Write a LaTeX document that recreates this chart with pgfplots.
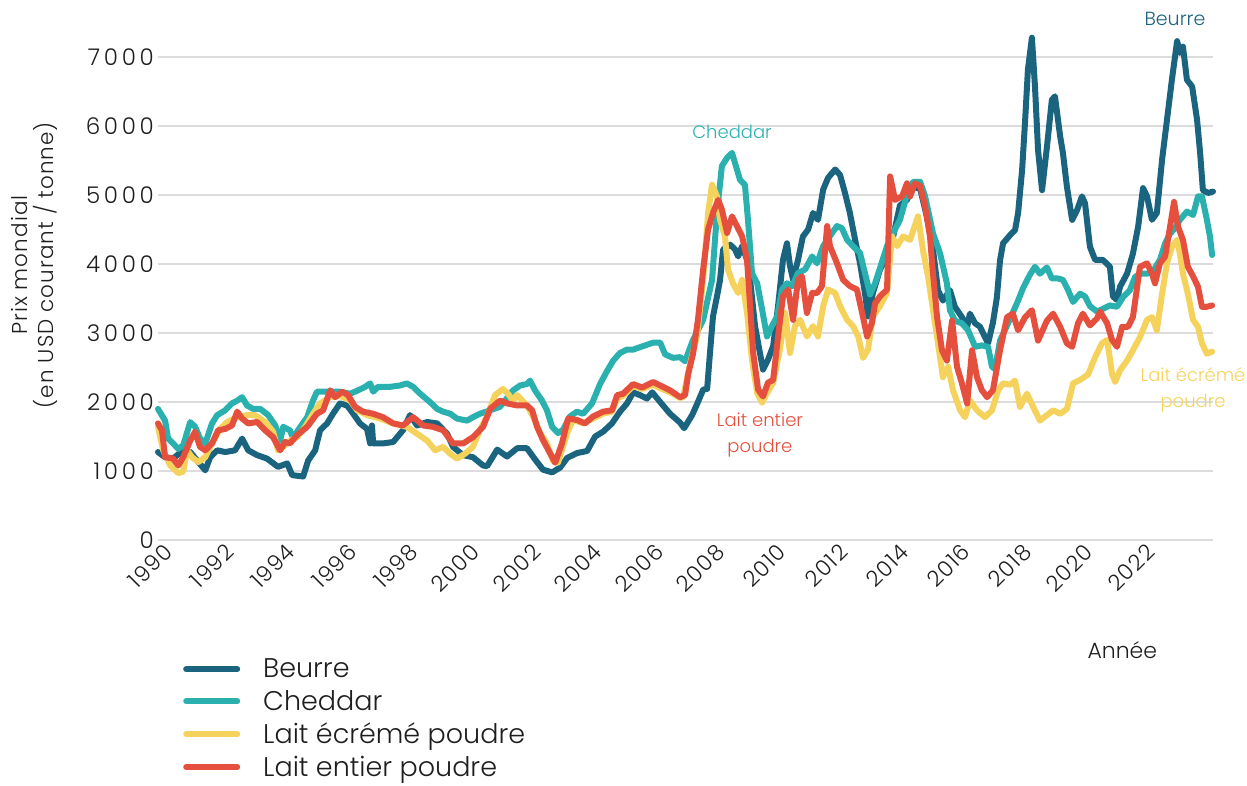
\documentclass[border=0pt]{standalone}
\usepackage{fontspec}
\setmainfont{Poppins}[UprightFont=* Light]
\usepackage{pgfplots}
\pgfplotsset{compat=1.18}

\definecolor{beurre}{HTML}{1B6480}
\definecolor{cheddar}{HTML}{2AB0AE}
\definecolor{ecreme}{HTML}{F5D25C}
\definecolor{entier}{HTML}{E4503D}
\definecolor{grille}{HTML}{DCDCDC}
\definecolor{texte}{HTML}{1E1E1E}

\begin{document}
\begin{tikzpicture}
\path[use as bounding box] (-158pt,-245pt) rectangle (1089pt,540pt);
\begin{axis}[
    scale only axis,
    width=1055pt, height=483pt,
    xmin=1989.67, xmax=2024.04,
    ymin=0, ymax=7000,
    clip=false,
    axis line style={draw=none},
    tick style={draw=none},
    ymajorgrids,
    grid style={grille, line width=2.5pt},
    xtick={1990,1992,...,2022},
    ytick={0,1000,...,7000},
    /pgf/number format/1000 sep={},
    /pgf/number format/assume math mode=true,
    yticklabel style={font=\fontsize{23}{26}\selectfont\addfontfeatures{LetterSpace=16},
        text=texte, inner xsep=4pt, inner ysep=0pt},
    xticklabel style={font=\fontsize{22}{26}\selectfont\addfontfeatures{LetterSpace=5},
        text=texte, rotate=45, anchor=east, inner sep=0pt},
    xticklabel shift=8pt,
    ylabel={Prix mondial\\(en USD courant / tonne)},
    ylabel style={at={(axis description cs:-0.117,0.569)}, anchor=center,
        align=center, font=\fontsize{21.5}{26}\selectfont\addfontfeatures{LetterSpace=5}, text=texte},
    xlabel={Année},
    xlabel style={at={(axis description cs:0.914,-0.228)}, anchor=center,
        font=\fontsize{22}{26}\selectfont, text=texte},
    legend style={at={(axis description cs:0.0237,-0.242)}, anchor=north west,
        draw=none, fill=none, inner sep=0pt, row sep=7pt,
        font=\fontsize{27}{31}\selectfont, text=texte},
    legend cell align=left,
    legend image code/.code={%
        \draw[#1, line width=6pt, line cap=round] (0pt,0pt) -- (51pt,0pt);
        \path[draw=none] (0pt,0pt) -- (75pt,0pt);},
    every axis plot/.append style={line width=6pt, line join=round, line cap=round},
]

% Beurre
\addplot[beurre] coordinates {
(1989.67,1275) (1989.90,1200) (1990.16,1180) (1990.49,1300) (1990.72,1275)
(1990.94,1155) (1991.21,1010) (1991.37,1200) (1991.60,1300) (1991.86,1275)
(1992.18,1300) (1992.41,1470) (1992.61,1300) (1992.90,1230) (1993.22,1180)
(1993.58,1060) (1993.88,1110) (1994.04,940) (1994.40,920) (1994.56,1150)
(1994.79,1300) (1994.95,1590) (1995.18,1690) (1995.37,1830) (1995.60,1980)
(1995.83,1950) (1996.03,1830) (1996.25,1690) (1996.48,1610) (1996.58,1400)
(1996.64,1660) (1996.68,1400) (1997.00,1400) (1997.33,1420) (1997.65,1590)
(1997.88,1810) (1998.11,1660) (1998.44,1710) (1998.76,1690) (1999.09,1540)
(1999.28,1350) (1999.61,1230) (1999.93,1200) (2000.26,1080) (2000.39,1070)
(2000.72,1310) (2001.04,1210) (2001.37,1330) (2001.69,1330) (2001.95,1170)
(2002.21,1020) (2002.51,980) (2002.77,1050) (2003.00,1190) (2003.32,1260)
(2003.65,1290) (2003.91,1500) (2004.17,1570) (2004.46,1690) (2004.72,1860)
(2004.95,1980) (2005.15,2140) (2005.37,2100) (2005.60,2050) (2005.77,2140)
(2006.03,2000) (2006.35,1830) (2006.68,1700) (2006.81,1620) (2007.07,1810)
(2007.26,2000) (2007.43,2180) (2007.56,2190) (2007.65,2700) (2007.75,3240)
(2007.88,3530) (2007.98,3770) (2008.08,4210) (2008.31,4280) (2008.47,4210)
(2008.57,4110) (2008.70,4260) (2008.86,4060) (2008.96,3770) (2009.12,3100)
(2009.28,2710) (2009.38,2470) (2009.54,2610) (2009.71,2810) (2009.87,3390)
(2010.03,4060) (2010.16,4300) (2010.26,3970) (2010.36,3770) (2010.52,4060)
(2010.68,4400) (2010.85,4500) (2011.01,4740) (2011.17,4640) (2011.34,5080)
(2011.50,5250) (2011.73,5370) (2011.89,5290) (2012.05,5030) (2012.21,4740)
(2012.38,4350) (2012.54,4010) (2012.70,3580) (2012.80,3240) (2012.96,3580)
(2013.19,3920) (2013.42,4110) (2013.62,4400) (2013.84,4850) (2014.07,4930)
(2014.27,5120) (2014.50,5090) (2014.72,4680) (2014.92,4200) (2015.08,3620)
(2015.24,3470) (2015.47,3620) (2015.63,3380) (2015.86,3230) (2016.03,3090)
(2016.12,3280) (2016.29,3140) (2016.45,3090) (2016.61,2940) (2016.71,2850)
(2016.87,3150) (2017.00,3520) (2017.10,4050) (2017.20,4300) (2017.43,4420)
(2017.59,4490) (2017.69,4740) (2017.82,5360) (2017.92,6090) (2018.01,6820)
(2018.14,7280) (2018.24,6570) (2018.34,5650) (2018.47,5070) (2018.63,5700)
(2018.79,6380) (2018.89,6430) (2019.06,5850) (2019.15,5610) (2019.28,5120)
(2019.45,4640) (2019.61,4780) (2019.77,4980) (2019.87,4880) (2020.03,4250)
(2020.20,4060) (2020.45,4060) (2020.68,3960) (2020.78,3530) (2020.91,3480)
(2021.01,3670) (2021.24,3860) (2021.43,4150) (2021.60,4540) (2021.76,5100)
(2021.89,4980) (2022.05,4640) (2022.21,4740) (2022.38,5510) (2022.54,6090)
(2022.70,6670) (2022.87,7230) (2022.96,7060) (2023.06,7150) (2023.19,6670)
(2023.36,6570) (2023.52,6090) (2023.62,5610) (2023.71,5070) (2023.88,5030)
(2024.04,5050)
};
\addlegendentry{Beurre}

% Cheddar
\addplot[cheddar] coordinates {
(1989.67,1900) (1989.90,1730) (1990.00,1470) (1990.16,1400) (1990.33,1320)
(1990.49,1370) (1990.72,1710) (1990.88,1640) (1991.04,1470) (1991.21,1400)
(1991.43,1690) (1991.60,1810) (1991.86,1880) (1992.08,1980) (1992.25,2020)
(1992.41,2070) (1992.57,1950) (1992.77,1900) (1993.00,1900) (1993.26,1810)
(1993.49,1660) (1993.65,1440) (1993.75,1640) (1993.97,1590) (1994.07,1470)
(1994.23,1590) (1994.53,1780) (1994.72,2020) (1994.85,2150) (1995.05,2150)
(1995.34,2150) (1995.60,2150) (1995.93,2120) (1996.19,2170) (1996.42,2220)
(1996.58,2270) (1996.68,2150) (1996.84,2220) (1997.23,2220) (1997.56,2240)
(1997.78,2270) (1997.98,2220) (1998.21,2120) (1998.53,2000) (1998.76,1900)
(1998.96,1860) (1999.19,1830) (1999.41,1760) (1999.74,1730) (1999.93,1780)
(2000.16,1830) (2000.49,1880) (2000.81,1930) (2001.24,2170) (2001.47,2240)
(2001.69,2260) (2001.79,2310) (2001.95,2170) (2002.18,2020) (2002.34,1880)
(2002.51,1640) (2002.70,1550) (2002.87,1600) (2003.09,1790) (2003.32,1860)
(2003.52,1830) (2003.81,1980) (2004.07,2260) (2004.30,2450) (2004.50,2600)
(2004.72,2710) (2004.95,2760) (2005.15,2760) (2005.47,2810) (2005.80,2860)
(2006.03,2860) (2006.19,2690) (2006.45,2640) (2006.68,2650) (2006.84,2590)
(2007.10,2900) (2007.43,3190) (2007.72,3770) (2007.88,4740) (2008.04,5420)
(2008.21,5540) (2008.37,5610) (2008.47,5460) (2008.63,5220) (2008.79,5150)
(2008.89,4640) (2009.02,3870) (2009.19,3720) (2009.35,3340) (2009.51,2950)
(2009.67,3100) (2009.84,3240) (2010.00,3630) (2010.16,3720) (2010.33,3680)
(2010.52,3870) (2010.75,3920) (2010.98,4110) (2011.14,4010) (2011.34,4260)
(2011.63,4450) (2011.79,4550) (2011.95,4520) (2012.12,4350) (2012.31,4260)
(2012.54,4160) (2012.70,3870) (2012.87,3560) (2013.03,3720) (2013.19,3940)
(2013.42,4260) (2013.62,4450) (2013.84,4640) (2014.07,5000) (2014.27,5190)
(2014.50,5190) (2014.66,4980) (2014.92,4440) (2015.15,4150) (2015.37,3720)
(2015.47,3330) (2015.63,3180) (2015.86,3140) (2016.06,3040) (2016.29,2800)
(2016.51,2820) (2016.71,2800) (2016.84,2510) (2016.94,2480) (2017.10,2890)
(2017.33,3110) (2017.52,3300) (2017.69,3470) (2017.85,3650) (2018.08,3850)
(2018.24,3960) (2018.40,3860) (2018.63,3950) (2018.79,3790) (2018.99,3790)
(2019.15,3770) (2019.32,3620) (2019.48,3450) (2019.71,3570) (2019.87,3530)
(2020.03,3390) (2020.26,3310) (2020.45,3350) (2020.68,3400) (2020.91,3380)
(2021.11,3520) (2021.33,3620) (2021.50,3810) (2021.66,3860) (2021.89,3860)
(2022.08,3890) (2022.31,4060) (2022.48,4300) (2022.64,4440) (2022.80,4520)
(2022.96,4640) (2023.19,4760) (2023.39,4710) (2023.55,4980) (2023.68,4980)
(2023.84,4640) (2023.94,4400) (2024.01,4130)
};
\addlegendentry{Cheddar}

% Lait ecreme poudre
\addplot[ecreme] coordinates {
(1989.67,1640) (1989.84,1300) (1990.07,1080) (1990.33,970) (1990.49,990)
(1990.62,1300) (1990.78,1200) (1990.98,1130) (1991.21,1200) (1991.43,1400)
(1991.69,1610) (1991.92,1710) (1992.25,1780) (1992.57,1810) (1992.83,1810)
(1993.16,1710) (1993.42,1570) (1993.58,1300) (1993.75,1350) (1993.97,1440)
(1994.20,1490) (1994.46,1640) (1994.72,1830) (1994.95,1980) (1995.28,2070)
(1995.50,2100) (1995.70,2070) (1995.93,2020) (1996.16,1880) (1996.48,1810)
(1996.91,1760) (1997.33,1690) (1997.78,1640) (1998.11,1540) (1998.44,1440)
(1998.70,1300) (1998.96,1350) (1999.19,1250) (1999.41,1180) (1999.67,1250)
(1999.93,1350) (2000.16,1600) (2000.39,1790) (2000.65,2100) (2000.91,2190)
(2001.07,2120) (2001.24,2020) (2001.37,2100) (2001.69,1950) (2001.89,1790)
(2002.12,1550) (2002.34,1400) (2002.54,1140) (2002.70,1120) (2003.00,1550)
(2003.19,1740) (2003.52,1690) (2003.84,1760) (2004.17,1830) (2004.46,1860)
(2004.63,2050) (2004.82,2090) (2005.15,2230) (2005.44,2190) (2005.80,2250)
(2006.03,2200) (2006.35,2140) (2006.68,2060) (2006.78,2070) (2007.00,2550)
(2007.23,2950) (2007.43,3770) (2007.59,4740) (2007.72,5150) (2007.88,4980)
(2007.98,4640) (2008.14,4400) (2008.24,3920) (2008.40,3720) (2008.57,3580)
(2008.70,3770) (2008.86,3290) (2009.02,2610) (2009.19,2130) (2009.35,1990)
(2009.51,2130) (2009.71,2280) (2009.93,2760) (2010.10,3290) (2010.26,2710)
(2010.42,3100) (2010.59,3190) (2010.81,2950) (2011.01,3100) (2011.17,2950)
(2011.34,3390) (2011.50,3630) (2011.73,3580) (2011.89,3390) (2012.12,3190)
(2012.31,3100) (2012.48,2950) (2012.64,2640) (2012.80,2760) (2012.96,3240)
(2013.19,3390) (2013.42,3580) (2013.58,4400) (2013.75,4260) (2013.94,4400)
(2014.17,4350) (2014.43,4690) (2014.59,4200) (2014.76,3810) (2014.92,3330)
(2015.08,2850) (2015.24,2360) (2015.41,2510) (2015.57,2170) (2015.80,1880)
(2015.96,1780) (2016.12,2020) (2016.35,1880) (2016.61,1780) (2016.84,1880)
(2017.04,2170) (2017.20,2270) (2017.43,2250) (2017.59,2310) (2017.75,1930)
(2017.98,2120) (2018.18,1930) (2018.40,1730) (2018.63,1810) (2018.83,1880)
(2019.06,1830) (2019.28,1900) (2019.48,2270) (2019.71,2320) (2019.97,2400)
(2020.20,2650) (2020.42,2850) (2020.59,2900) (2020.75,2410) (2020.85,2290)
(2021.01,2460) (2021.24,2600) (2021.43,2750) (2021.66,2940) (2021.89,3190)
(2022.05,3230) (2022.21,3040) (2022.38,3570) (2022.54,4010) (2022.70,4250)
(2022.87,4350) (2022.96,4150) (2023.06,3860) (2023.22,3570) (2023.39,3190)
(2023.55,3090) (2023.68,2850) (2023.84,2700) (2024.01,2730)
};
\addlegendentry{Lait écrémé poudre}

% Lait entier poudre
\addplot[entier] coordinates {
(1989.67,1690) (1989.80,1590) (1989.90,1200) (1990.16,1180) (1990.33,1080)
(1990.49,1200) (1990.72,1440) (1990.88,1570) (1991.04,1350) (1991.21,1300)
(1991.43,1400) (1991.63,1590) (1991.86,1610) (1992.08,1660) (1992.25,1860)
(1992.41,1760) (1992.61,1690) (1992.90,1710) (1993.16,1590) (1993.42,1490)
(1993.65,1300) (1993.81,1420) (1993.97,1400) (1994.20,1520) (1994.53,1640)
(1994.85,1830) (1995.05,1880) (1995.28,2170) (1995.44,2070) (1995.67,2150)
(1995.86,2100) (1996.09,1930) (1996.35,1860) (1996.68,1830) (1997.00,1780)
(1997.33,1690) (1997.65,1660) (1997.98,1780) (1998.31,1660) (1998.63,1640)
(1998.96,1590) (1999.28,1400) (1999.61,1400) (1999.93,1490) (2000.26,1640)
(2000.49,1900) (2000.81,2020) (2001.04,1980) (2001.37,1950) (2001.69,1950)
(2001.86,1880) (2002.02,1640) (2002.21,1450) (2002.44,1260) (2002.61,1120)
(2002.83,1400) (2003.03,1760) (2003.32,1740) (2003.58,1690) (2003.84,1790)
(2004.17,1860) (2004.46,1880) (2004.63,2100) (2004.82,2120) (2005.15,2260)
(2005.44,2210) (2005.80,2290) (2006.03,2240) (2006.35,2170) (2006.68,2070)
(2006.84,2100) (2006.94,2400) (2007.10,2700) (2007.26,3190) (2007.43,3920)
(2007.59,4500) (2007.75,4740) (2007.92,4930) (2008.04,4790) (2008.21,4450)
(2008.37,4690) (2008.53,4550) (2008.70,4400) (2008.86,4060) (2008.96,3390)
(2009.06,2710) (2009.22,2180) (2009.38,2080) (2009.54,2280) (2009.71,2320)
(2009.87,2950) (2010.03,3530) (2010.20,3630) (2010.36,3190) (2010.52,3770)
(2010.65,3820) (2010.81,3290) (2010.98,3580) (2011.14,3580) (2011.30,3680)
(2011.47,4550) (2011.56,4260) (2011.79,4010) (2011.99,3770) (2012.21,3680)
(2012.44,3630) (2012.61,3290) (2012.77,2950) (2012.93,3150) (2013.03,3430)
(2013.19,3530) (2013.42,3630) (2013.52,5270) (2013.68,4930) (2013.91,4980)
(2014.07,5170) (2014.17,4980) (2014.33,5170) (2014.50,5130) (2014.66,4840)
(2014.82,4400) (2014.89,4000) (2015.05,3230) (2015.21,2750) (2015.37,2600)
(2015.54,3180) (2015.70,2510) (2015.86,2270) (2016.03,1980) (2016.19,2750)
(2016.35,2360) (2016.51,2170) (2016.68,2070) (2016.87,2170) (2017.10,2750)
(2017.33,3230) (2017.52,3280) (2017.69,3040) (2017.92,3230) (2018.14,3330)
(2018.34,2890) (2018.63,3180) (2018.83,3280) (2019.06,3090) (2019.28,2850)
(2019.45,2800) (2019.64,3140) (2019.80,3280) (2020.03,3110) (2020.26,3210)
(2020.36,3310) (2020.59,3140) (2020.75,2900) (2020.91,2800) (2021.08,3090)
(2021.27,3090) (2021.43,3230) (2021.66,3960) (2021.89,4010) (2022.05,3860)
(2022.15,3720) (2022.31,4010) (2022.48,4110) (2022.64,4540) (2022.77,4900)
(2022.90,4540) (2023.06,4350) (2023.22,3960) (2023.39,3820) (2023.55,3670)
(2023.68,3380) (2023.84,3380) (2024.01,3400)
};
\addlegendentry{Lait entier poudre}

\node[text=beurre, font=\fontsize{19}{22}\selectfont] at (axis cs:2022.80,7555) {Beurre};
\node[text=cheddar, font=\fontsize{18}{22}\selectfont] at (axis cs:2008.37,5920) {Cheddar};
\node[text=entier, font=\fontsize{18}{26}\selectfont, align=center] at (axis cs:2009.28,1520) {Lait entier\\poudre};
\node[text=ecreme, font=\fontsize{18}{26}\selectfont, align=center] at (axis cs:2023.39,2170) {Lait écrémé\\poudre};
\end{axis}
\end{tikzpicture}
\end{document}
